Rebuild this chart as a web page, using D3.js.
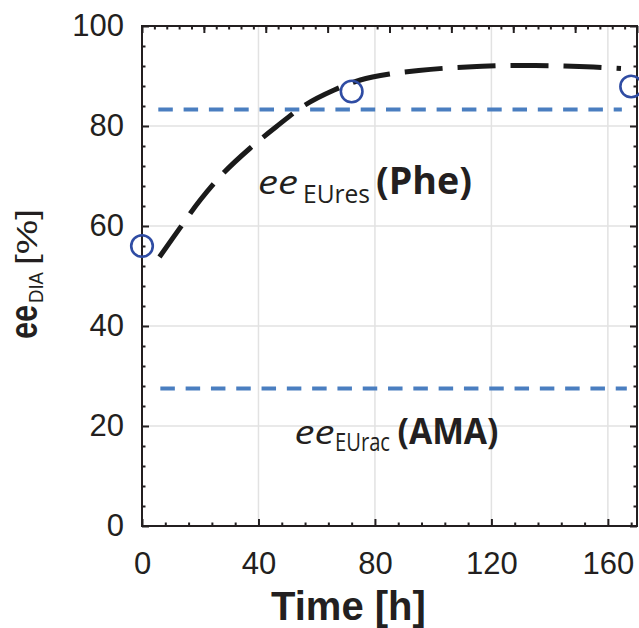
<!DOCTYPE html>
<html><head><meta charset="utf-8">
<script src="https://cdn.jsdelivr.net/npm/d3@7/dist/d3.min.js"></script>
<style>html,body{margin:0;padding:0;background:#fff;}svg{display:block;}</style>
</head><body>
<svg id="chart" width="639" height="628"></svg>
<script>
// ---- data ----
const timeH = [0, 72, 168];
const eeDIA = [56, 86.9, 87.9];
const fitTime = [6, 14, 20, 28, 37, 46, 56, 66, 75, 85, 95, 105, 115, 125, 135, 145, 155, 164.5];
const fitEE = [53.8, 60.4, 65.2, 70.6, 75.5, 79.8, 84.2, 87.2, 89.2, 90.4, 91.1, 91.6, 91.9, 92.1, 92.1, 92.0, 91.8, 91.5];
const refLevel = [83.3, 27.5];
const refStart = [5.6, 6.3];
const refEnd = [164.8, 166.5];
const xTicks = [0, 40, 80, 120, 160];
const yTicks = [0, 20, 40, 60, 80, 100];
const xGrid = [40, 80, 120, 160];
const yGrid = [20, 40, 60, 80];

const svg = d3.select("#chart");
const L = 142, R = 637, T = 26, B = 526;
const x = d3.scaleLinear().domain([0, 170]).range([L, R]);
const y = d3.scaleLinear().domain([0, 100]).range([B, T]);
const xTop = d3.scaleLinear().domain([0, 8]).range([L, R]);
const ink = "#231f20";
const tickFont = "'Liberation Sans', Arial, sans-serif";

// grid
svg.append("g").selectAll("line").data(xGrid).join("line")
  .attr("x1", d => x(d)).attr("x2", d => x(d)).attr("y1", T).attr("y2", B)
  .attr("stroke", "#e2e2e2").attr("stroke-width", 1.5);
svg.append("g").selectAll("line").data(yGrid).join("line")
  .attr("x1", L).attr("x2", R).attr("y1", d => y(d)).attr("y2", d => y(d))
  .attr("stroke", "#e2e2e2").attr("stroke-width", 1.5);

// axes helper
function styleAxis(g){ g.select(".domain").remove(); g.selectAll("line").attr("stroke", ink).attr("stroke-width", 2); }
const xMinor = d3.range(8, 170, 8).filter(v => v % 40 !== 0);
const yMinor = d3.range(4, 100, 4).filter(v => v % 20 !== 0);

// bottom
svg.append("g").attr("transform", `translate(0,${B})`)
  .call(d3.axisBottom(x).tickValues(xTicks).tickSize(-7).tickPadding(26))
  .call(styleAxis)
  .call(g => g.selectAll("text").attr("font-family", tickFont).attr("font-size", 31).attr("fill", ink));
svg.append("g").attr("transform", `translate(0,${B})`)
  .call(d3.axisBottom(x).tickValues(xMinor).tickSize(-3.5).tickFormat(""))
  .call(styleAxis);
// left
svg.append("g").attr("transform", `translate(${L},0)`)
  .call(d3.axisLeft(y).tickValues(yTicks).tickSize(-7).tickPadding(18))
  .call(styleAxis)
  .call(g => g.selectAll("text").attr("font-family", tickFont).attr("font-size", 31).attr("fill", ink));
svg.append("g").attr("transform", `translate(${L},0)`)
  .call(d3.axisLeft(y).tickValues(yMinor).tickSize(-3.5).tickFormat(""))
  .call(styleAxis);
// right
svg.append("g").attr("transform", `translate(${R},0)`)
  .call(d3.axisRight(y).tickValues(yTicks).tickSize(-7).tickFormat(""))
  .call(styleAxis);
svg.append("g").attr("transform", `translate(${R},0)`)
  .call(d3.axisRight(y).tickValues(yMinor).tickSize(-3.5).tickFormat(""))
  .call(styleAxis);
// top
svg.append("g").attr("transform", `translate(0,${T})`)
  .call(d3.axisTop(xTop).tickValues(d3.range(0, 9, 1)).tickSize(-7).tickFormat(""))
  .call(styleAxis);
svg.append("g").attr("transform", `translate(0,${T})`)
  .call(d3.axisTop(xTop).tickValues(d3.range(0.2, 8, 0.2)).tickSize(-3.5).tickFormat(""))
  .call(styleAxis);

// frame
svg.append("rect").attr("x", L).attr("y", T).attr("width", R - L).attr("height", B - T)
  .attr("fill", "none").attr("stroke", ink).attr("stroke-width", 2);

// reference dashed levels
svg.append("g").selectAll("line").data(refLevel).join("line")
  .attr("x1", (d, i) => x(refStart[i])).attr("x2", (d, i) => x(refEnd[i]))
  .attr("y1", d => y(d)).attr("y2", d => y(d))
  .attr("stroke", "#4a7ec0").attr("stroke-width", 3.8).attr("stroke-dasharray", "14.5,10.8");

// fitted curve
const fit = fitTime.map((t, i) => [t, fitEE[i]]);
svg.append("path").datum(fit)
  .attr("d", d3.line().x(d => x(d[0])).y(d => y(d[1])).curve(d3.curveCatmullRom.alpha(0.5)))
  .attr("fill", "none").attr("stroke", "#1a1a1a").attr("stroke-width", 5)
  .attr("stroke-dasharray", "38,15");

// data points
svg.append("g").selectAll("circle").data(timeH).join("circle")
  .attr("cx", d => x(d)).attr("cy", (d, i) => y(eeDIA[i])).attr("r", 10.8)
  .attr("fill", "none").attr("stroke", "#2f4ca3").attr("stroke-width", 2.6);

// in-plot labels
const lf = "'Open Sans', 'Noto Sans', sans-serif";
function piece(txt, px, py, size, len, opts){
  const t = svg.append("text").attr("x", px).attr("y", py).attr("font-family", lf)
    .attr("font-size", size).attr("fill", ink).text(txt)
    .attr("textLength", len).attr("lengthAdjust", "spacingAndGlyphs");
  if (opts && opts.italic) t.attr("font-style", "italic");
  if (opts && opts.bold) t.attr("font-weight", "bold");
}
piece("ee", 258, 193.5, 33, 40, {italic:true});
piece("EUres", 303, 202.5, 25, 67);
piece("(Phe)", 376, 193.5, 37, 96, {bold:true});
piece("ee", 294.5, 443.5, 33, 40, {italic:true});
piece("EUrac", 335, 451, 25, 55);
piece("(AMA)", 397.5, 443.5, 35, 101, {bold:true});

// axis titles
svg.append("text").attr("x", 271).attr("y", 620)
  .attr("font-family", tickFont).attr("font-weight", "bold").attr("font-size", 40)
  .attr("fill", ink).text("Time [h]");

const yl = svg.append("g").attr("transform", "rotate(-90)");
yl.append("text").attr("x", -339).attr("y", 37).attr("font-family", tickFont)
  .attr("font-weight", "bold").attr("font-size", 38).attr("fill", ink)
  .attr("textLength", 34).attr("lengthAdjust", "spacingAndGlyphs").text("ee");
yl.append("text").attr("x", -303).attr("y", 42.5).attr("font-family", tickFont)
  .attr("font-size", 21).attr("fill", ink)
  .attr("textLength", 31).attr("lengthAdjust", "spacingAndGlyphs").text("DIA");
yl.append("text").attr("x", -265).attr("y", 37).attr("font-family", tickFont)
  .attr("font-size", 30).attr("fill", ink)
  .attr("textLength", 56).attr("lengthAdjust", "spacingAndGlyphs").text("[%]");
</script>
</body></html>
